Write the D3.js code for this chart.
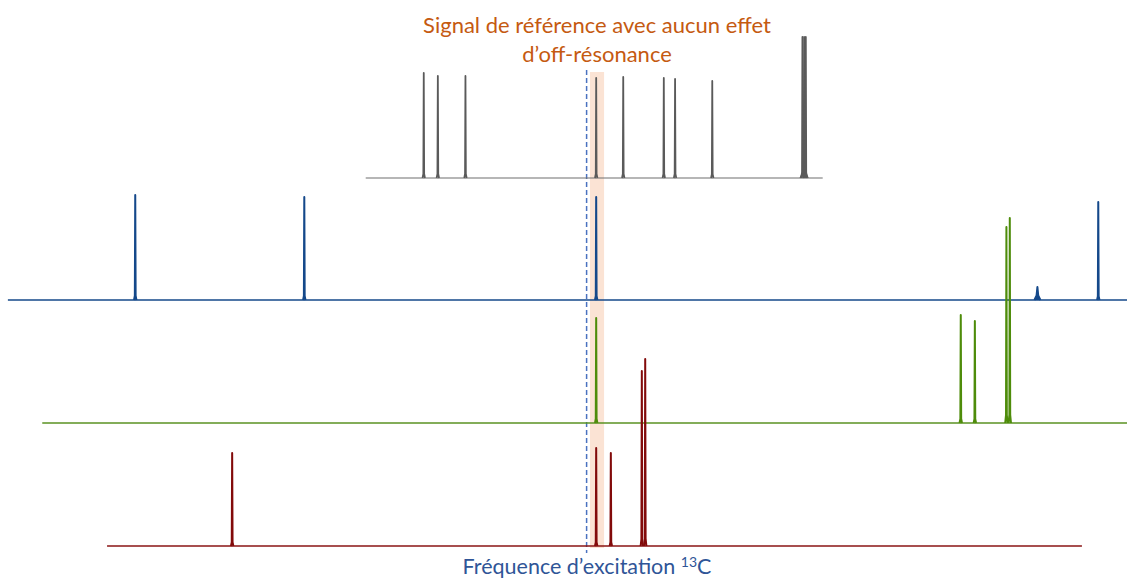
<!DOCTYPE html>
<html>
<head>
<meta charset="utf-8">
<script src="https://cdn.jsdelivr.net/npm/d3@7"></script>
<style>
  html, body { margin: 0; padding: 0; background: #ffffff; }
  svg { display: block; }
</style>
</head>
<body>
<svg id="chart" width="1127" height="579"></svg>
<script>
// ---- DATA (chemical shift in ppm, intensity in relative units) ----
const titleLines = ["Signal de référence avec aucun effet", "d\u2019off-résonance"];
const xLabelMain = "Fréquence d\u2019excitation ";
const xLabelSup = "13";
const xLabelEnd = "C";

const excitationPpm = 95.9;        // dashed line
const referenceBand = [95.3, 92.8]; // highlighted band

// Reference spectrum (grey)
const grayRange = [135.1, 54.0];
const grayShifts = [124.8, 122.3, 117.4, 94.2, 89.4, 82.2, 80.2, 73.6, 57.6, 57.3, 57.0];
const grayHeights = [105, 102, 102, 100, 101, 100, 99, 97, 141, 141, 141];
const grayBroadShifts = [57.3];
const grayBroadHeights = [6];

// Blue spectrum
const blueRange = [198.6, 0];
const blueShifts = [176.0, 146.0, 94.2, 15.9, 5.1];
const blueHeights = [105, 103, 103, 13, 98];

// Green spectrum
const greenRange = [192.5, 0];
const greenShifts = [94.2, 29.5, 27.0, 21.4, 20.8];
const greenHeights = [105, 108, 102, 196, 205];

// Red spectrum
const redRange = [181.0, 8.0];
const redShifts = [158.8, 94.2, 91.6, 86.1, 85.5];
const redHeights = [93, 98, 93, 175, 187];

// ---- DRAWING ----
const W = 1127, H = 579;
const svg = d3.select("#chart");

const x = d3.scaleLinear().domain([200, 0]).range([0, W]);

const rows = [
  { range: grayRange, shifts: grayShifts, heights: grayHeights, broad: grayBroadShifts, broadH: grayBroadHeights,
    base: 178, color: "#5a5a5a", baseColor: "#6e6e6e", width: 1.8, baseWidth: 1.2 },
  { range: blueRange, shifts: blueShifts, heights: blueHeights, base: 300, color: "#14488a", baseColor: "#14488a", width: 2, baseWidth: 1.5,
    wide: [false, false, false, true, false] },
  { range: greenRange, shifts: greenShifts, heights: greenHeights, base: 423, color: "#4e8c0a", baseColor: "#5a9222", width: 2, baseWidth: 1.3 },
  { range: redRange, shifts: redShifts, heights: redHeights, base: 546, color: "#820a0a", baseColor: "#8a1414", width: 2, baseWidth: 1.3 }
];

// reference band
svg.append("rect")
  .attr("x", x(referenceBand[0]))
  .attr("width", x(referenceBand[1]) - x(referenceBand[0]))
  .attr("y", 72)
  .attr("height", 476)
  .attr("fill", "#fbe3d4");

// dashed excitation line
svg.append("line")
  .attr("x1", x(excitationPpm)).attr("x2", x(excitationPpm))
  .attr("y1", 70).attr("y2", 553)
  .attr("stroke", "#4a72c0")
  .attr("stroke-width", 1.5)
  .attr("stroke-dasharray", "5,3");

const line = d3.line().x(d => d[0]).y(d => d[1]);

rows.forEach(r => {
  const y = d3.scaleLinear().domain([0, 100]).range([r.base, r.base - 100]);
  const g = svg.append("g");
  // baseline
  g.append("path")
    .attr("d", line([[x(r.range[0]), y(0)], [x(r.range[1]), y(0)]]))
    .attr("stroke", r.baseColor).attr("stroke-width", r.baseWidth).attr("fill", "none");
  // broad bumps
  if (r.broad) {
    r.broad.forEach((s, i) => {
      g.append("path")
        .attr("d", line([[x(s) - 4, y(0)], [x(s) - 1.5, y(r.broadH[i])], [x(s) + 1.5, y(r.broadH[i])], [x(s) + 4, y(0)]]))
        .attr("stroke", r.color).attr("stroke-width", 1.2).attr("fill", "none");
    });
  }
  // peaks
  r.shifts.forEach((s, i) => {
    const wide = r.wide && r.wide[i];
    const h = r.heights[i];
    const pts = wide
      ? [[x(s) - 3, y(0)], [x(s) - 0.8, y(h * 0.35)], [x(s), y(h)], [x(s) + 0.8, y(h * 0.35)], [x(s) + 3, y(0)]]
      : [[x(s) - 1.2, y(0)], [x(s) - 0.4, y(h * 0.04)], [x(s), y(h)], [x(s) + 0.4, y(h * 0.04)], [x(s) + 1.2, y(0)]];
    g.append("path")
      .attr("d", line(pts))
      .attr("stroke", r.color)
      .attr("stroke-width", r.width)
      .attr("stroke-linejoin", "round")
      .attr("fill", wide ? r.color : "none");
  });
});

// title
const title = svg.append("text")
  .attr("text-anchor", "middle")
  .attr("font-family", "Lato, 'Open Sans', sans-serif")
  .attr("font-size", 22)
  .attr("fill", "#c55a11");
titleLines.forEach((t, i) => {
  title.append("tspan").attr("x", 597).attr("y", 33 + i * 29).text(t);
});

// x label
const xl = svg.append("text")
  .attr("x", 587)
  .attr("y", 574)
  .attr("text-anchor", "middle")
  .attr("font-family", "Lato, 'Open Sans', sans-serif")
  .attr("font-size", 21.5)
  .attr("fill", "#2f5597");
xl.append("tspan").text(xLabelMain);
xl.append("tspan").attr("font-size", 14).attr("dy", -7).text(xLabelSup);
xl.append("tspan").attr("dy", 7).text(xLabelEnd);
</script>
</body>
</html>
